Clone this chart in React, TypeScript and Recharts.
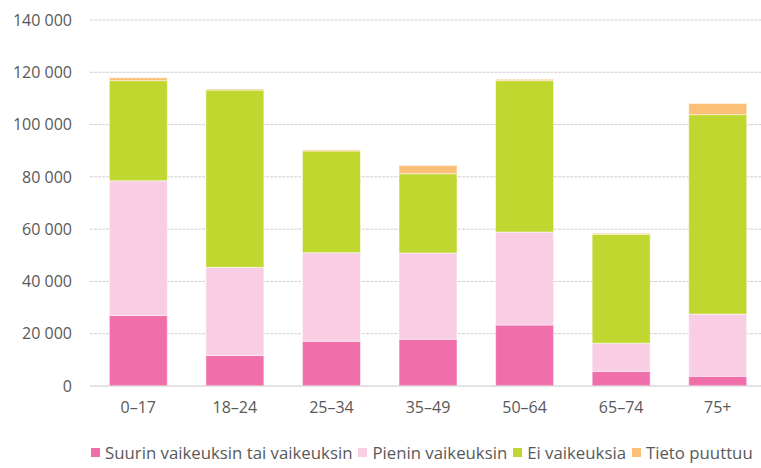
import React from "react";
import { BarChart, Bar, XAxis, YAxis, CartesianGrid, Legend } from "recharts";

const categories = ["0–17", "18–24", "25–34", "35–49", "50–64", "65–74", "75+"];
const suurin = [27000, 11700, 17100, 17900, 23300, 5600, 3700];
const pienin = [51500, 33700, 33900, 33000, 35600, 10800, 23800];
const eiVaikeuksia = [38300, 67800, 38900, 30300, 57900, 41600, 76300];
const tietoPuuttuu = [1100, 400, 400, 3100, 500, 400, 4300];
const yTicks = [0, 20000, 40000, 60000, 80000, 100000, 120000, 140000];

const seriesNames = [
  "Suurin vaikeuksin tai vaikeuksin",
  "Pienin vaikeuksin",
  "Ei vaikeuksia",
  "Tieto puuttuu",
];
const seriesColors = ["#F06FAA", "#F9CEE4", "#C0D72F", "#FBBF78"];

const data = categories.map((c, i) => ({
  name: c,
  s0: suurin[i],
  s1: pienin[i],
  s2: eiVaikeuksia[i],
  s3: tietoPuuttuu[i],
}));

const FONT = '"Open Sans", sans-serif';
const TEXT = "#595959";

const fmt = (v: number) => String(v).replace(/\B(?=(\d{3})+(?!\d))/g, " ");

const LegendContent = () => (
  <div
    style={{
      display: "flex",
      alignItems: "center",
      height: 20,
      fontFamily: FONT,
      fontSize: 16.8,
      color: TEXT,
      whiteSpace: "nowrap",
    }}
  >
    {seriesNames.map((n, i) => (
      <div key={n} style={{ display: "flex", alignItems: "center", marginRight: 6 }}>
        <span
          style={{
            display: "inline-block",
            width: 9,
            height: 9,
            background: seriesColors[i],
            marginRight: 5,
          }}
        />
        <span>{n}</span>
      </div>
    ))}
  </div>
);

export default function App() {
  return (
    <div style={{ position: "absolute", left: 0, top: 0, width: 761, height: 468, background: "#fff" }}>
      <BarChart
        width={761}
        height={468}
        data={data}
        margin={{ top: 20, right: -5, left: 0, bottom: 32 }}
        barCategoryGap="20%"
      >
        <CartesianGrid vertical={false} stroke="#D0D0D0" strokeDasharray="3 1" />
        <XAxis
          dataKey="name"
          tickLine={false}
          axisLine={{ stroke: "#D9D9D9" }}
          tickMargin={10}
          tick={{ fill: TEXT, fontSize: 16, fontFamily: FONT }}
        />
        <YAxis
          width={90}
          domain={[0, 140000]}
          ticks={yTicks}
          tickFormatter={fmt}
          axisLine={false}
          tickLine={false}
          tickMargin={12}
          tick={{ fill: TEXT, fontSize: 16, fontFamily: FONT }}
        />
        <Legend
          verticalAlign="bottom"
          align="left"
          content={<LegendContent />}
          wrapperStyle={{ bottom: 6, left: 91, width: "auto" }}
        />
        {["s0", "s1", "s2", "s3"].map((k, i) => (
          <Bar
            key={k}
            dataKey={k}
            name={seriesNames[i]}
            stackId="a"
            fill={seriesColors[i]}
            stroke="#ffffff"
            strokeWidth={0.5}
            isAnimationActive={false}
          />
        ))}
      </BarChart>
    </div>
  );
}
